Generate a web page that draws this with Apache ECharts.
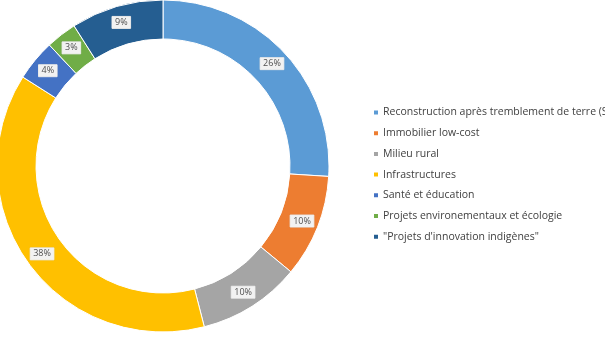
<!DOCTYPE html>
<html><head><meta charset="utf-8">
<script src="https://cdn.jsdelivr.net/npm/echarts@6/dist/echarts.min.js"></script>
<style>html,body{margin:0;padding:0;background:#fff;}#c{width:605px;height:346px;}</style>
</head><body><div id="c"></div>
<script>
const categories = ["Reconstruction après tremblement de terre (S", "Immobilier low-cost", "Milieu rural", "Infrastructures", "Santé et éducation", "Projets environementaux et écologie", "\"Projets d'innovation indigènes\""];
const values = [26, 10, 10, 38, 4, 3, 9];
const colors = ["#5B9BD5", "#ED7D31", "#A5A5A5", "#FFC000", "#4472C4", "#70AD47", "#255E91"];

const chart = echarts.init(document.getElementById('c'), null, {renderer: 'canvas'});
chart.setOption({
  animation: false,
  color: colors,
  legend: {
    orient: 'vertical', left: 367, top: 102,
    itemWidth: 6, itemHeight: 6, itemGap: 9.7,
    icon: 'rect',
    textStyle: {fontFamily: 'Open Sans', fontSize: 10.5, color: '#404040', padding: [0,0,0,-1]},
    data: categories
  },
  series: [{
    type: 'pie',
    center: [163, 166],
    radius: [127, 166],
    startAngle: 90,
    clockwise: true,
    avoidLabelOverlap: false,
    itemStyle: {borderColor: '#fff', borderWidth: 1},
    label: {
      show: true, position: 'inside',
      formatter: p => p.value + '%',
      fontFamily: 'Open Sans', fontSize: 9, color: '#505050',
      backgroundColor: '#F2F2F2', borderColor: '#E0E0E0', borderWidth: 0.5,
      padding: [2, 3, 1, 3]
    },
    labelLine: {show: false},
    data: categories.map((n, i) => ({name: n, value: values[i]}))
  }]
});
</script></body></html>
